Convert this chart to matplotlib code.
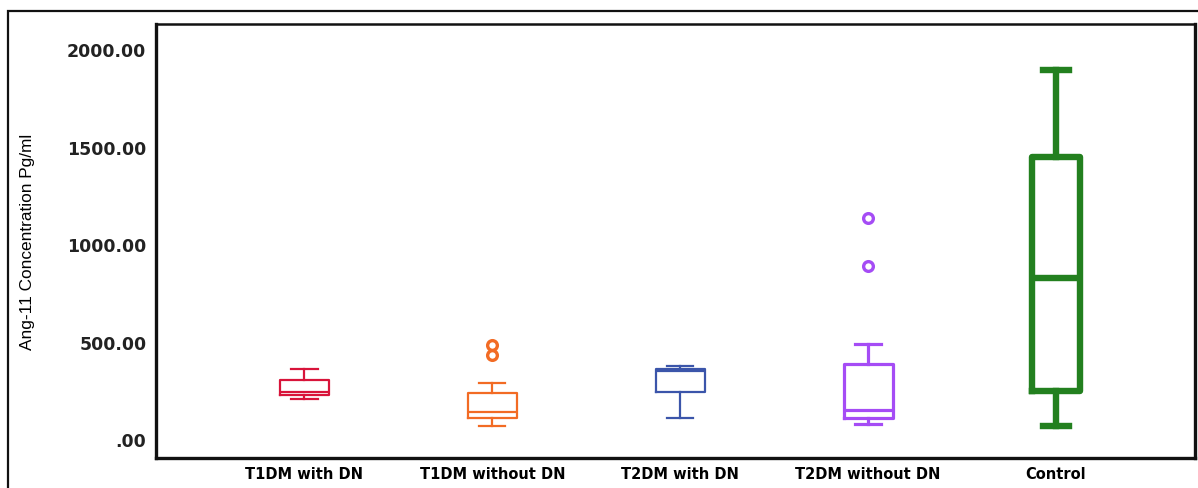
import matplotlib.pyplot as plt
from matplotlib.patches import Rectangle

# group summary values (Pg/ml)
groups = ['T1DM with DN', 'T1DM without DN', 'T2DM with DN', 'T2DM without DN', 'Control']
whisker_low = [208, 67, 108, 78, 67]
q1 = [226, 108, 241, 106, 246]
median = [240, 140, 350, 150, 826]
q3 = [304, 236, 360, 385, 1446]
whisker_high = [360, 287, 377, 487, 1894]
outliers = [[], [431, 480], [], [887, 1133], []]

colors = ['#d8143a', '#f26b24', '#3b55aa', '#a54cf5', '#23801f']
line_w = [1.6, 1.6, 1.6, 2.3, 4.6]
tick_vals = [0, 500, 1000, 1500, 2000]
tick_text = ['.00', '500.00', '1000.00', '1500.00', '2000.00']

fig = plt.figure(figsize=(11.98, 4.89), dpi=100)
ax = fig.add_axes([0.1302, 0.0613, 0.8673, 0.8875])

# outer frame around the whole figure
fig.patches.append(Rectangle((8 / 1198, -0.1), 1.1, 1 - 12 / 489 + 0.1,
                             transform=fig.transFigure, fill=False,
                             edgecolor='#111111', linewidth=1.6))

for i in range(len(groups)):
    stats = [{'whislo': whisker_low[i], 'q1': q1[i], 'med': median[i],
              'q3': q3[i], 'whishi': whisker_high[i], 'fliers': outliers[i]}]
    c = colors[i]
    lw = line_w[i]
    ax.bxp(stats, positions=[i + 1], widths=0.26, capwidths=0.14,
           boxprops=dict(color=c, linewidth=lw),
           medianprops=dict(color=c, linewidth=lw),
           whiskerprops=dict(color=c, linewidth=lw),
           capprops=dict(color=c, linewidth=lw),
           flierprops=dict(marker='o', markerfacecolor='none', markeredgecolor=c,
                           markersize=7, markeredgewidth=2.4))

ax.set_xlim(0.21, 5.74)
ax.set_ylim(-97, 2128)
ax.set_xticks(range(1, len(groups) + 1))
ax.set_xticklabels(groups, fontsize=10.5, fontweight='bold', family='DejaVu Sans')
ax.set_yticks(tick_vals)
ax.set_yticklabels(tick_text, fontsize=12.5, fontweight='bold', family='DejaVu Sans',
                   color='#222222')
ax.tick_params(axis='both', length=0)
ax.tick_params(axis='y', pad=7)
ax.tick_params(axis='x', pad=6)

ax.set_ylabel('Ang-11 Concentration Pg/ml', fontsize=12.4, family='Liberation Sans')
ax.yaxis.set_label_coords(-0.1165, 0.5)

for side in ['left', 'bottom', 'right']:
    ax.spines[side].set_linewidth(2.4)
ax.spines['top'].set_linewidth(1.8)
for s in ax.spines.values():
    s.set_color('#111111')

fig.savefig('out.png', dpi=100)
